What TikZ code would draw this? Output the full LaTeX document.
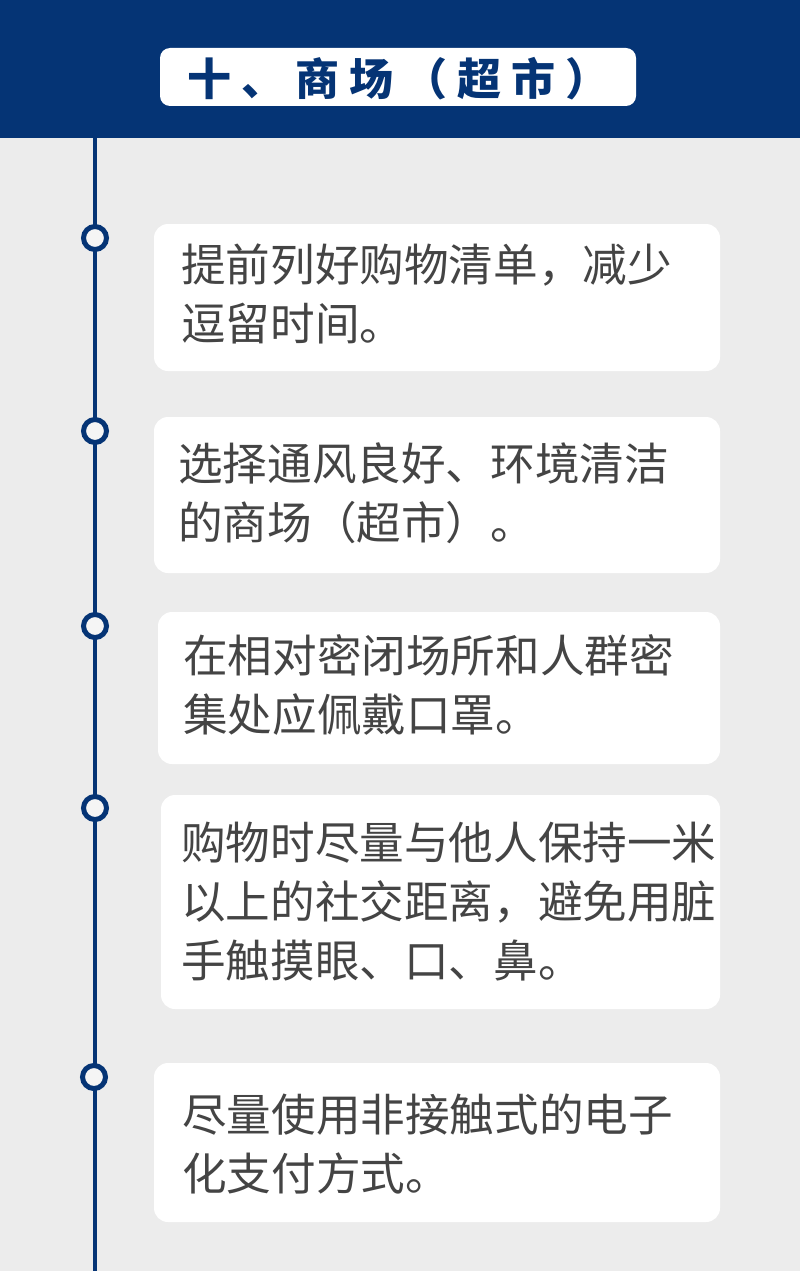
\documentclass[tikz,border=0pt]{standalone}
\usepackage{fontspec}
\newfontfamily\cjk{Noto Sans CJK SC}
\definecolor{navy}{RGB}{5,52,117}
\definecolor{bggray}{RGB}{236,236,236}
\definecolor{txtgray}{RGB}{68,68,68}
\tikzset{
  card/.style={fill=white, rounded corners=14pt},
  cardtext/.style={anchor=north west, inner sep=0pt, align=left, text=txtgray,
    font=\cjk\fontsize{44.6}{59}\selectfont},
  dot/.style={circle, draw=navy, line width=5pt, fill=white!50!bggray, minimum size=23pt, inner sep=0pt},
}
\begin{document}
\begin{tikzpicture}[x=1pt,y=-1pt]
\useasboundingbox (0,0) rectangle (800,1271);
\fill[bggray] (0,0) rectangle (800,1271);
\fill[navy] (0,0) rectangle (800,138);
\node[fill=white, rounded corners=10pt, minimum width=476pt, minimum height=58pt, inner sep=0pt] (titlebox) at (398,77) {};
\node[anchor=base west, inner sep=0pt, text=navy, font=\cjk\bfseries\fontsize{44}{44}\selectfont] (title) at (187,96)
  {十\hspace{10pt}、\hspace{10pt}商\hspace{10pt}场\hspace{10pt}（\hspace{10pt}超\hspace{10pt}市\hspace{10pt}）};
\coordinate (top) at (95,138);
\coordinate (bottom) at (95,1271);
\draw[navy, line width=4pt] (top) -- (bottom);
\node[dot] (d1) at (95,238) {};
\node[dot] (d2) at (95,431) {};
\node[dot] (d3) at (95,626) {};
\node[dot] (d4) at (95,808) {};
\node[dot] (d5) at (94,1077) {};
\fill[card] (154,224) rectangle (720,371);
\fill[card] (154,417) rectangle (720,573);
\fill[card] (158,612) rectangle (720,764);
\fill[card] (161,795) rectangle (720,1009);
\fill[card] (154,1063) rectangle (720,1222);
\node[cardtext] (t1) at (181,244) {提前列好购物清单，减少\\逗留时间。};
\node[cardtext] (t2) at (178,442) {选择通风良好、环境清洁\\的商场（超市）。};
\node[cardtext] (t3) at (183,634) {在相对密闭场所和人群密\\集处应佩戴口罩。};
\node[cardtext] (t4) at (181,822) {购物时尽量与他人保持一米\\以上的社交距离，避免用脏\\手触摸眼、口、鼻。};
\node[cardtext] (t5) at (182,1094) {尽量使用非接触式的电子\\化支付方式。};
\end{tikzpicture}
\end{document}
